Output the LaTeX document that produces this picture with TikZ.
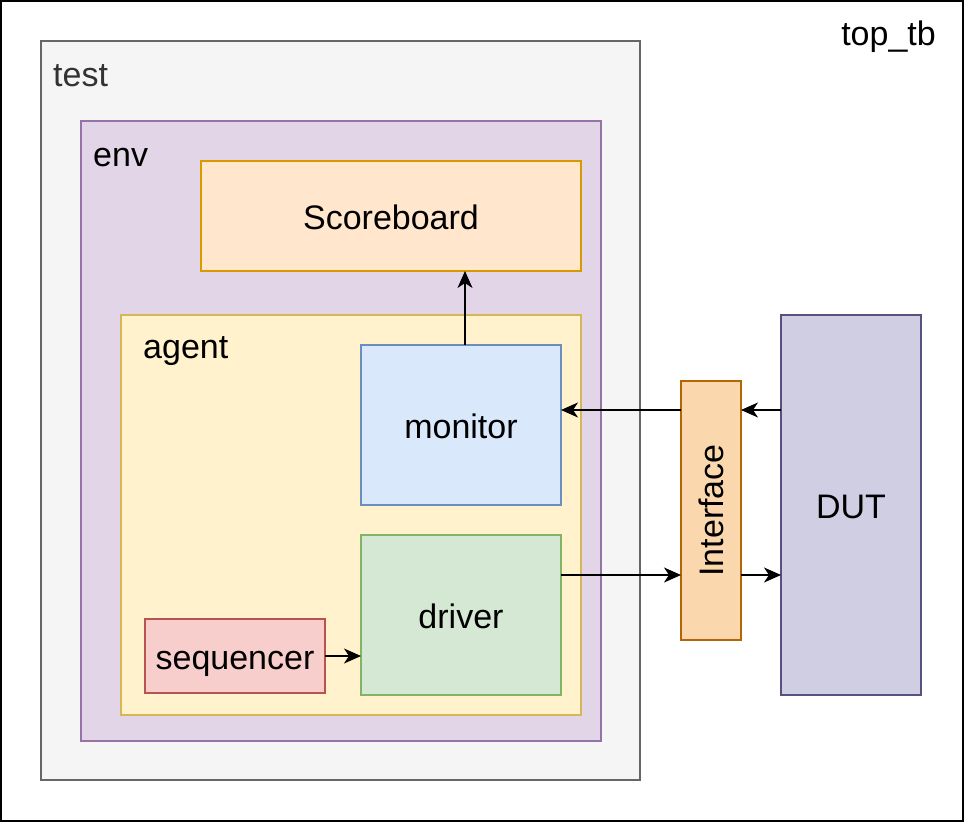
\documentclass[tikz,border=0pt]{standalone}
\usepackage{fontspec}
\setmainfont{Liberation Sans}
\usepackage{xcolor}
\usetikzlibrary{arrows.meta}
\definecolor{testfill}{HTML}{F5F5F5}
\definecolor{testline}{HTML}{666666}
\definecolor{testtext}{HTML}{333333}
\definecolor{envfill}{HTML}{E1D5E7}
\definecolor{envline}{HTML}{9673A6}
\definecolor{sbfill}{HTML}{FFE6CC}
\definecolor{sbline}{HTML}{D79B00}
\definecolor{agentfill}{HTML}{FFF2CC}
\definecolor{agentline}{HTML}{D6B656}
\definecolor{monfill}{HTML}{DAE8FC}
\definecolor{monline}{HTML}{6C8EBF}
\definecolor{drvfill}{HTML}{D5E8D4}
\definecolor{drvline}{HTML}{82B366}
\definecolor{seqfill}{HTML}{F8CECC}
\definecolor{seqline}{HTML}{B85450}
\definecolor{itffill}{HTML}{FAD7AC}
\definecolor{itfline}{HTML}{B46504}
\definecolor{dutfill}{HTML}{D0CEE2}
\definecolor{dutline}{HTML}{56517E}

\begin{document}
\begin{tikzpicture}[x=1pt,y=-1pt]
    \def\fsize{\fontsize{34pt}{39pt}\selectfont}

    \tikzstyle{frame}=[draw, line width=1.8pt, inner sep=0pt, outer sep=0pt, anchor=north west]
    \tikzstyle{box}=[frame, font=\fsize, text height=26pt, text depth=0pt, align=center]
    \tikzstyle{title}=[font=\fsize, inner sep=0pt, anchor=base west]

    \useasboundingbox (0,0) rectangle (964,822);

    \node[frame, draw=black, line width=2.5pt, minimum width=962pt, minimum height=820pt] (top) at (1,1) {};
    \node[title, anchor=base east] (topl) at (936,45) {top\_tb};

    \node[frame, draw=testline, fill=testfill, minimum width=599pt, minimum height=739pt] (test) at (41,41) {};
    \node[title, text=testtext] (testl) at (53,86) {test};

    \node[frame, draw=envline, fill=envfill, minimum width=520pt, minimum height=620pt] (env) at (81,121) {};
    \node[title] (envl) at (93,166) {env};

    \node[box, draw=sbline, fill=sbfill, minimum width=380pt, minimum height=110pt] (sb) at (201,161) {Scoreboard};

    \node[frame, draw=agentline, fill=agentfill, minimum width=460pt, minimum height=400pt] (agent) at (121,315) {};
    \node[title] (agentl) at (143,358) {agent};

    \node[box, draw=monline, fill=monfill, minimum width=200pt, minimum height=160pt] (mon) at (361,345) {monitor};
    \node[box, draw=drvline, fill=drvfill, minimum width=200pt, minimum height=160pt] (drv) at (361,535) {driver};
    \node[box, draw=seqline, fill=seqfill, minimum width=180pt, minimum height=74pt] (seq) at (145,619) {sequencer};

    \node[frame, font=\fsize, draw=itfline, fill=itffill, minimum width=60pt, minimum height=259pt] (itf) at (681,381) {\rotatebox{90}{Interface}};
    \node[box, draw=dutline, fill=dutfill, minimum width=140pt, minimum height=380pt] (dut) at (781,315) {DUT};

    \coordinate (rx) at (0,410);
    \coordinate (tx) at (0,575);

    \tikzstyle{fwd} = [draw=black, line width=1.8pt, -{Stealth[length=17pt,width=15pt,inset=5pt]}]

    \draw [fwd] (seq.east) -- (seq.east -| drv.west);
    \draw [fwd] ([xshift=4pt]mon.north) -- ([xshift=4pt]mon.north |- sb.south);
    \draw [fwd] (dut.west |- rx) -- (itf.east |- rx);
    \draw [fwd] (itf.west |- rx) -- (mon.east |- rx);
    \draw [fwd] (drv.east |- tx) -- (itf.west |- tx);
    \draw [fwd] (itf.east |- tx) -- (dut.west |- tx);

\end{tikzpicture}
\end{document}
